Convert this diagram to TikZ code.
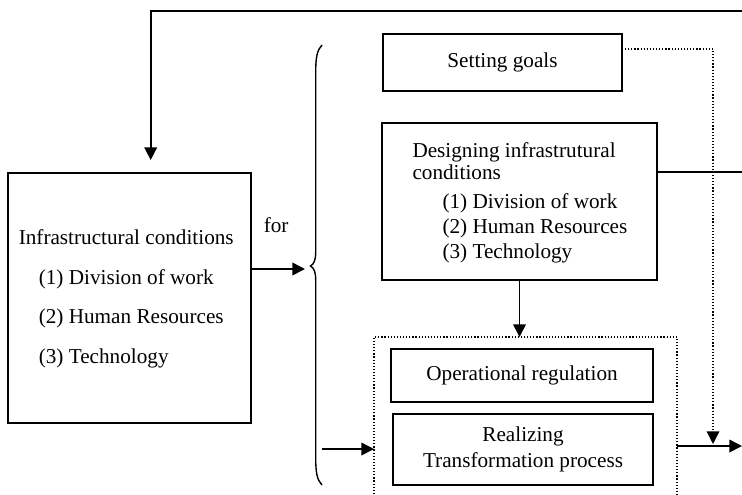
\documentclass[tikz,border=0pt]{standalone}
\usepackage{fontspec}
\setmainfont{Liberation Serif}
\usetikzlibrary{arrows.meta}
\newcommand{\diagfont}{\fontsize{10.6pt}{12.8pt}\selectfont}
\begin{document}
\begin{tikzpicture}[
  x=0.5pt, y=-0.5pt,
  line width=0.8pt,
  every node/.style={font=\diagfont},
  box/.style={draw, rectangle, inner sep=0pt},
  txt/.style={inner sep=0pt, anchor=base west},
  arr/.style={-{Triangle[length=6.3pt,width=6.3pt]}},
  dotline/.style={line width=0.6pt, dash pattern=on 0.6pt off 0.95pt},
  dotarr/.style={dotline, -{Triangle[length=6.3pt,width=6.3pt]}},
]
\useasboundingbox (0,0) rectangle (742,494);

% ---- left block: current infrastructure
\node[box, minimum width=121.5pt, minimum height=125pt] (infra) at (129.5,298) {};
\node[txt] (infraA) at (18,244) {Infrastructural conditions};
\node[txt] (infraB) at (38,284) {(1) Division of work};
\node[txt] (infraC) at (38,323) {(2) Human Resources};
\node[txt] (infraD) at (38,363) {(3) Technology};
\node[txt] (for) at (263,232) {for};

% ---- right column
\node[box, minimum width=119.5pt, minimum height=28.5pt] (goals) at (502.5,62.5) {Setting goals};

\node[box, minimum width=137.5pt, minimum height=78.5pt] (design) at (519.5,201.5) {};
\node[txt] (desA) at (411.7,157) {Designing infrastrutural};
\node[txt] (desB) at (411.7,179) {conditions};
\node[txt] (desC) at (441.7,208) {(1) Division of work};
\node[txt] (desD) at (441.7,233) {(2) Human Resources};
\node[txt] (desE) at (441.7,258) {(3) Technology};

\node[box, minimum width=131pt, minimum height=26.5pt] (oper) at (522,375.5) {Operational regulation};
\node[box, minimum width=130pt, minimum height=35.5pt, align=center] (real) at (523,449.5)
  {Realizing\\Transformation process};

% dotted frame around the operational part (open at the bottom)
\coordinate (regTL) at (374,337);
\coordinate (regTR) at (677,337);
\draw[dotline] (374,494) -- (regTL) -- (regTR) -- (677,494);

% ---- curly brace
\draw[line width=0.7pt] (322,45) .. controls (317,50) and (315.7,58) .. (315.7,72)
  -- (315.7,252) .. controls (315.7,260) and (314,264) .. (310.5,266)
  .. controls (314,268) and (315.7,272) .. (315.7,280)
  -- (315.7,458) .. controls (315.7,472) and (317,480) .. (322,485);

% ---- connectors
\coordinate (forIn) at (305,269);
\draw[arr] (infra.east |- forIn) -- (forIn);

\coordinate (regInStart) at (322,449);
\coordinate (regIn) at (374,449);
\draw[arr] (regInStart) -- (regIn);

\draw[arr] (design.south) -- (design.south |- regTL);

\coordinate (outEnd) at (742,446);
\draw[arr] (regTR |- outEnd) -- (outEnd);

\coordinate (goalsDot) at (625,49);
\coordinate (dotEnd) at (713,444);
\draw[dotarr] (goalsDot) -| (dotEnd);

\coordinate (desOut) at (742,172);
\draw (design.east |- desOut) -- (desOut);

\coordinate (loopStart) at (742,11);
\coordinate (loopEnd) at (150.7,160);
\draw[arr] (loopStart) -| (loopEnd);
\end{tikzpicture}
\end{document}
